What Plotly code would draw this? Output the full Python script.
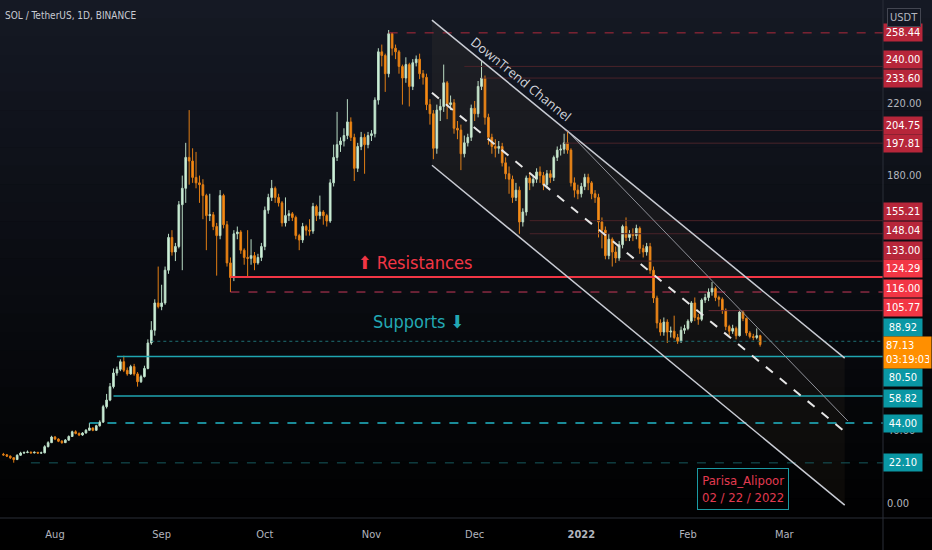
import pandas as pd
import plotly.graph_objects as go

# daily SOL/USDT candles, 2021-07-17 .. 2022-02-22
opens = [
    26.8, 26.5, 25.8, 24.9, 23.9, 26.3, 27.5, 27.8, 28.0, 27.6, 27.9, 27.5, 27.6, 31.0, 33.2,
    36.3, 35.2, 34.0, 33.2, 34.6, 36.6, 39.2, 38.3, 37.4, 38.5, 40.0, 41.3, 40.0, 42.5, 44.5,
    53.0, 56.6, 64.0, 71.5, 73.5, 77.7, 73.0, 71.0, 75.0, 71.0, 66.7, 69.5, 74.0, 88.0, 95.0,
    110.0, 108.0, 110.0, 128.0, 146.0, 138.0, 141.0, 164.0, 173.0, 190.0, 188.0, 179.0, 176.0, 175.0, 169.0,
    158.0, 158.5, 152.0, 147.0, 169.0, 153.0, 132.0, 124.0, 148.0, 149.0, 139.0, 135.0, 134.5, 136.0, 132.0,
    135.0, 141.0, 161.0, 168.0, 173.0, 168.0, 165.0, 154.0, 158.0, 159.0, 157.0, 147.0, 144.6, 152.0, 150.0,
    149.5, 163.0, 158.0, 160.0, 158.0, 155.0, 176.0, 190.0, 197.0, 199.0, 202.0, 209.5, 201.0, 184.0, 196.0,
    201.0, 197.0, 202.0, 203.0, 221.5, 248.0, 246.0, 236.0, 258.0, 250.0, 248.0, 240.0, 233.6, 241.0, 229.0,
    242.0, 244.0, 236.0, 234.0, 219.0, 214.0, 195.0, 216.0, 218.0, 231.0, 219.0, 220.0, 206.0, 205.0, 192.0,
    198.0, 201.0, 217.0, 214.0, 229.0, 233.6, 212.0, 201.0, 196.0, 195.0, 196.0, 187.0, 181.0, 178.0, 168.0,
    172.0, 154.5, 160.0, 178.7, 176.0, 178.0, 182.0, 180.0, 175.0, 181.0, 179.0, 190.0, 194.0, 194.5, 198.0,
    194.0, 176.0, 172.0, 170.0, 174.0, 179.0, 176.0, 170.0, 168.0, 154.5, 150.0, 136.0, 145.0, 138.0, 134.7,
    142.0, 152.0, 146.0, 148.0, 147.0, 151.0, 140.0, 138.0, 141.0, 128.0, 112.7, 99.0, 94.0, 99.5, 94.0,
    94.5, 91.0, 89.0, 95.0, 96.0, 100.0, 110.0, 102.0, 101.0, 111.6, 113.0, 116.0, 118.0, 113.0, 112.0,
    106.0, 97.0, 94.5, 96.0, 92.0, 105.0, 101.5, 93.5, 91.5, 91.0, 92.0,
]
highs = [
    27.6, 27.0, 26.2, 25.3, 26.8, 28.2, 28.4, 28.9, 28.3, 28.4, 28.1, 28.3, 31.8, 34.0, 37.0,
    36.9, 35.6, 34.6, 35.2, 37.2, 39.8, 40.0, 38.8, 39.0, 40.7, 44.0, 41.5, 43.0, 45.5, 54.0,
    60.0, 66.0, 74.0, 75.0, 79.0, 81.0, 74.5, 76.0, 76.5, 72.0, 70.5, 75.5, 90.0, 100.0, 112.0,
    130.0, 120.0, 130.0, 148.0, 150.0, 143.0, 166.0, 180.0, 198.0, 216.0, 195.0, 193.0, 180.0, 178.0, 170.0,
    170.0, 160.0, 154.0, 172.0, 170.0, 155.0, 135.0, 150.0, 152.0, 150.0, 140.0, 150.0, 145.0, 138.0, 137.0,
    143.0, 163.0, 170.0, 177.6, 174.0, 170.0, 166.0, 168.0, 161.0, 160.0, 158.0, 148.0, 154.0, 153.0, 156.0,
    165.0, 164.0, 169.0, 161.0, 159.0, 178.0, 197.0, 215.0, 201.0, 206.0, 222.0, 212.0, 203.0, 198.0, 204.0,
    203.0, 204.0, 205.0, 223.0, 250.0, 252.0, 247.0, 260.0, 258.5, 252.0, 249.0, 241.0, 245.0, 242.0, 244.0,
    246.0, 247.0, 238.0, 236.0, 222.0, 216.0, 219.0, 222.0, 241.0, 232.0, 224.0, 222.0, 210.0, 208.0, 202.0,
    203.0, 219.0, 221.0, 232.0, 243.5, 235.0, 214.0, 203.0, 200.0, 199.0, 198.0, 190.0, 185.0, 180.0, 176.0,
    174.0, 162.0, 180.0, 182.0, 180.0, 184.0, 185.0, 182.0, 183.0, 183.0, 191.0, 196.0, 197.0, 203.0, 204.75,
    195.0, 179.0, 175.0, 176.0, 181.0, 181.0, 177.0, 172.0, 170.0, 157.0, 152.0, 148.0, 146.0, 141.0, 144.0,
    153.0, 157.0, 150.0, 151.0, 153.0, 152.0, 142.0, 143.0, 143.0, 130.0, 114.0, 101.0, 102.0, 101.0, 97.0,
    103.0, 93.0, 97.0, 98.0, 101.0, 111.0, 113.0, 104.0, 112.5, 115.0, 118.0, 121.5, 119.0, 114.0, 113.0,
    107.0, 98.0, 98.0, 97.0, 106.0, 106.0, 102.0, 94.5, 93.0, 96.0, 92.5,
]
lows = [
    26.0, 25.3, 24.2, 22.2, 23.7, 26.0, 27.0, 27.4, 27.2, 27.3, 27.0, 27.1, 27.4, 30.6, 33.0,
    34.6, 33.5, 32.6, 33.0, 34.3, 36.3, 37.8, 36.8, 37.0, 38.2, 39.8, 39.5, 39.8, 42.0, 44.0,
    52.0, 56.0, 63.0, 70.0, 72.5, 72.0, 70.0, 70.5, 70.0, 64.0, 66.0, 69.0, 73.5, 87.0, 92.0,
    107.0, 106.0, 109.0, 126.0, 136.0, 133.0, 140.0, 128.0, 165.0, 175.0, 176.0, 173.0, 165.0, 156.0, 139.0,
    155.0, 150.0, 125.0, 145.0, 151.0, 130.0, 116.0, 122.0, 145.0, 137.0, 131.0, 124.0, 131.0, 128.0, 131.0,
    133.0, 139.0, 159.0, 166.0, 165.0, 163.0, 152.0, 152.0, 155.0, 155.0, 145.0, 139.0, 143.0, 147.0, 147.0,
    148.0, 155.0, 156.0, 153.0, 152.0, 154.0, 174.0, 188.0, 193.0, 196.0, 200.0, 199.0, 177.0, 182.0, 194.0,
    181.0, 195.0, 199.0, 201.0, 219.0, 240.0, 226.0, 234.0, 246.0, 244.0, 236.0, 219.0, 231.0, 218.0, 227.0,
    240.0, 233.0, 230.0, 216.0, 208.0, 189.0, 192.0, 210.0, 215.0, 211.0, 216.0, 203.0, 200.0, 183.0, 190.0,
    196.0, 199.0, 210.0, 212.0, 227.0, 208.0, 197.0, 192.0, 190.0, 192.0, 185.0, 178.0, 170.0, 165.0, 166.0,
    148.0, 152.0, 158.0, 172.0, 174.0, 176.0, 176.0, 172.0, 173.0, 176.0, 177.0, 188.0, 191.0, 192.0, 192.0,
    174.0, 168.0, 167.0, 168.0, 172.0, 172.0, 167.0, 165.0, 146.0, 140.0, 134.0, 134.0, 130.0, 132.0, 133.0,
    140.0, 144.0, 144.0, 144.0, 145.0, 137.0, 135.0, 136.0, 126.0, 110.0, 96.0, 92.0, 92.0, 88.0, 91.0,
    90.0, 87.5, 88.0, 93.0, 95.0, 99.0, 100.0, 98.0, 100.0, 110.0, 111.0, 114.0, 111.0, 108.0, 104.0,
    95.0, 92.0, 93.0, 90.0, 91.5, 100.0, 92.0, 90.5, 89.5, 90.0, 86.0,
]
closes = [
    26.5, 25.8, 24.9, 23.9, 26.3, 27.5, 27.8, 28.0, 27.6, 27.9, 27.5, 27.6, 31.0, 33.2, 36.3,
    35.2, 34.0, 33.2, 34.6, 36.6, 39.2, 38.3, 37.4, 38.5, 40.0, 41.3, 40.0, 42.5, 44.5, 53.0,
    56.6, 64.0, 71.5, 73.5, 77.7, 73.0, 71.0, 75.0, 71.0, 66.7, 69.5, 74.0, 88.0, 95.0, 110.0,
    108.0, 110.0, 128.0, 146.0, 138.0, 141.0, 164.0, 173.0, 190.0, 188.0, 179.0, 176.0, 175.0, 169.0, 158.0,
    158.5, 152.0, 147.0, 169.0, 153.0, 132.0, 124.0, 148.0, 149.0, 139.0, 135.0, 134.5, 136.0, 132.0, 135.0,
    141.0, 161.0, 168.0, 173.0, 168.0, 165.0, 154.0, 158.0, 159.0, 157.0, 147.0, 144.6, 152.0, 150.0, 149.5,
    163.0, 158.0, 160.0, 158.0, 155.0, 176.0, 190.0, 197.0, 199.0, 202.0, 209.5, 201.0, 184.0, 196.0, 201.0,
    197.0, 202.0, 203.0, 221.5, 248.0, 246.0, 236.0, 258.0, 250.0, 248.0, 240.0, 233.6, 241.0, 229.0, 242.0,
    244.0, 236.0, 234.0, 219.0, 214.0, 195.0, 216.0, 218.0, 231.0, 219.0, 220.0, 206.0, 205.0, 192.0, 198.0,
    201.0, 217.0, 214.0, 229.0, 233.6, 212.0, 201.0, 196.0, 195.0, 196.0, 187.0, 181.0, 178.0, 168.0, 172.0,
    154.5, 160.0, 178.7, 176.0, 178.0, 182.0, 180.0, 175.0, 181.0, 179.0, 190.0, 194.0, 194.5, 198.0, 194.0,
    176.0, 172.0, 170.0, 174.0, 179.0, 176.0, 170.0, 168.0, 154.5, 150.0, 136.0, 145.0, 138.0, 134.7, 142.0,
    152.0, 146.0, 148.0, 147.0, 151.0, 140.0, 138.0, 141.0, 128.0, 112.7, 99.0, 94.0, 99.5, 94.0, 94.5,
    91.0, 89.0, 95.0, 96.0, 100.0, 110.0, 102.0, 101.0, 111.6, 113.0, 116.0, 118.0, 113.0, 112.0, 106.0,
    97.0, 94.5, 96.0, 92.0, 105.0, 101.5, 93.5, 91.5, 91.0, 92.0, 87.13,
]
dates = pd.date_range("2021-07-17", periods=len(closes), freq="D")

month_ticks = ["2021-08-01", "2021-09-01", "2021-10-01", "2021-11-01",
               "2021-12-01", "2022-01-01", "2022-02-01", "2022-03-01"]
month_labels = ["Aug", "Sep", "Oct", "Nov", "Dec", "<b>2022</b>", "Feb", "Mar"]
price_ticks = [0, 40, 180, 220]
price_tick_labels = ["0.00", "40.00", "180.00", "220.00"]

x_start, x_end = "2021-07-16 00:15", "2022-03-29 17:00"

# horizontal levels: value, start date, colour, dash, width
levels = [
    (258.44, "2021-11-06", "#b02a3c", "dash", 1),
    (240.00, "2021-11-28", "#4a2329", "solid", 1),
    (233.60, "2021-12-03", "#4a2329", "solid", 1),
    (204.75, "2021-12-27", "#4a2329", "solid", 1),
    (197.81, "2021-12-27", "#4a2329", "solid", 1),
    (155.21, "2021-12-17", "#4a2329", "solid", 1),
    (148.04, "2021-12-17", "#4a2329", "solid", 1),
    (133.00, "2022-01-12", "#4a2329", "solid", 1),
    (124.29, "2021-09-21", "#f23645", "solid", 2),
    (116.00, "2021-09-21", "#c8385a", "dash", 1),
    (105.77, "2022-02-07", "#6a2a34", "solid", 1),
    (88.92, "2021-08-29", "#1f6f73", "dot", 1),
    (80.50, "2021-08-19", "#1fa5b0", "solid", 1.5),
    (58.82, "2021-08-18", "#1fa5b0", "solid", 1.5),
    (44.00, "2021-08-11", "#22b8c8", "dash", 1.5),
    (22.10, "2021-07-25", "#175a5e", "dash", 1),
]

# right-hand price labels: text, value, shift (px), background
price_labels = [
    ("258.44", 258.44, 0, "#b7263a"),
    ("240.00", 240.00, 7, "#b7263a"),
    ("233.60", 233.60, 0, "#b7263a"),
    ("204.75", 204.75, 5, "#b7263a"),
    ("197.81", 197.81, 0, "#b7263a"),
    ("155.21", 155.21, 9, "#b7263a"),
    ("148.04", 148.04, 3, "#b7263a"),
    ("133.00", 133.00, 11, "#b7263a"),
    ("124.29", 124.29, 8, "#f23645"),
    ("116.00", 116.00, 4, "#f23645"),
    ("105.77", 105.77, 3, "#f23645"),
    ("88.92", 88.92, 14, "#0a97a4"),
    ("80.50", 80.50, -21, "#0a97a4"),
    ("58.82", 58.82, -2, "#0a97a4"),
    ("44.00", 44.00, 0, "#0a97a4"),
    ("22.10", 22.10, 0, "#0a97a4"),
]

# downtrend channel anchors (date, price)
ch_upper = [("2021-11-18 14:00", 265.4), ("2022-03-18 14:00", 79.7)]
ch_lower = [("2021-11-18 14:00", 185.7), ("2022-03-18 14:00", -1.1)]
ch_mid = [("2021-11-18 14:00", 225.5), ("2022-03-18 14:00", 39.3)]
ch_inner = [("2021-12-27 19:00", 204.75), ("2022-03-19 12:00", 45.1)]

label_font = "DejaVu Sans Condensed, Liberation Sans Narrow, Roboto"

fig = go.Figure()

# channel shading
fig.add_trace(go.Scatter(
    x=[ch_upper[0][0], ch_upper[1][0], ch_lower[1][0], ch_lower[0][0]],
    y=[ch_upper[0][1], ch_upper[1][1], ch_lower[1][1], ch_lower[0][1]],
    fill="toself", fillcolor="rgba(255,210,140,0.045)", mode="none",
    hoverinfo="skip", showlegend=False))

fig.add_trace(go.Candlestick(
    x=dates, open=opens, high=highs, low=lows, close=closes,
    increasing=dict(line=dict(color="#b9dcc5", width=1), fillcolor="#d6f7e1"),
    decreasing=dict(line=dict(color="#e07d14", width=1), fillcolor="#ff9012"),
    whiskerwidth=0, showlegend=False))

shapes = []
# background gradient (dark navy at top fading to black)
n_bands = 30
for i in range(n_bands):
    t = i / (n_bands - 1)
    r, g, b = int(21 * (1 - t)), int(25 * (1 - t)), int(36 * (1 - t))
    shapes.append(dict(type="rect", xref="paper", yref="paper",
                       x0=-0.01, x1=1.07, y0=1 - (i + 1) / n_bands * 1.07, y1=1 - i / n_bands * 1.07 + 0.001,
                       fillcolor=f"rgb({r},{g},{b})", line=dict(width=0), layer="below"))

for val, start, color, dash, width in levels:
    shapes.append(dict(type="line", xref="x", yref="y", x0=start, x1=x_end, y0=val, y1=val,
                       line=dict(color=color, dash=dash, width=width)))

for pts, color, dash, width in [(ch_upper, "#c9ccd4", "solid", 1.5),
                                (ch_lower, "#c9ccd4", "solid", 1.5),
                                (ch_mid, "#e6e6e6", "dash", 2),
                                (ch_inner, "#8e9098", "solid", 1)]:
    shapes.append(dict(type="line", xref="x", yref="y", x0=pts[0][0], y0=pts[0][1],
                       x1=pts[1][0], y1=pts[1][1], line=dict(color=color, dash=dash, width=width)))

# axis separators
shapes.append(dict(type="line", xref="paper", yref="paper", x0=1, x1=1, y0=-0.07, y1=1,
                   line=dict(color="#2a2e39", width=1)))
shapes.append(dict(type="line", xref="paper", yref="paper", x0=0, x1=1.06, y0=0, y1=0,
                   line=dict(color="#2a2e39", width=1)))

annotations = []
for text, val, shift, bg in price_labels:
    annotations.append(dict(xref="paper", yref="y", x=1, y=val, yshift=shift, xanchor="left",
                            text=text, showarrow=False, bgcolor=bg, width=34, borderpad=2,
                            font=dict(family=label_font, size=11, color="#ffffff")))
annotations.append(dict(xref="paper", yref="y", x=1, y=closes[-1], yshift=-8, xanchor="left",
                        text=f"{closes[-1]:.2f}<br>03:19:03", showarrow=False, bgcolor="#ff8f00",
                        width=43, borderpad=2, align="left",
                        font=dict(family=label_font, size=11, color="#ffffff")))
annotations.append(dict(xref="paper", yref="paper", x=1, y=1, yshift=-8, xshift=4, xanchor="left",
                        yanchor="top", text="USDT", showarrow=False, bordercolor="#434651",
                        borderwidth=1, borderpad=2, bgcolor="#131722",
                        font=dict(family=label_font, size=11, color="#b2b5be")))
annotations.append(dict(xref="paper", yref="paper", x=0, y=1, xshift=3, yshift=-8,
                        xanchor="left", yanchor="top", showarrow=False,
                        text="SOL / TetherUS, 1D, BINANCE",
                        font=dict(family=label_font, size=10, color="#c8cbd3")))
annotations.append(dict(xref="x", yref="y", x="2021-12-14 12:00", y=233, text="DownTrend Channel",
                        textangle=39, showarrow=False,
                        font=dict(family="Open Sans", size=13, color="#d1d4dc")))
annotations.append(dict(xref="x", yref="y", x="2021-11-13 18:00", y=132.4, text="⬆ Resistances",
                        showarrow=False,
                        font=dict(family="DejaVu Sans Condensed, Open Sans", size=18, color="#f23645")))
annotations.append(dict(xref="x", yref="y", x="2021-11-14 18:00", y=100, text="Supports ⬇",
                        showarrow=False,
                        font=dict(family="DejaVu Sans Condensed, Open Sans", size=18, color="#22a8b4")))
annotations.append(dict(xref="x", yref="y", x="2022-02-17", y=7.5,
                        text="Parisa_Alipoor<br>02 / 22 / 2022", showarrow=False,
                        bordercolor="#1b9aa3", borderwidth=1, borderpad=4, bgcolor="rgba(0,0,0,0)",
                        font=dict(family=label_font, size=13, color="#e23a50")))

fig.update_layout(
    width=932, height=550,
    margin=dict(l=0, r=49, t=0, b=32),
    paper_bgcolor="#000000", plot_bgcolor="rgba(0,0,0,0)",
    shapes=shapes, annotations=annotations,
    showlegend=False,
    xaxis=dict(range=[x_start, x_end], rangeslider=dict(visible=False), showgrid=False,
               zeroline=False, tickvals=month_ticks, ticktext=month_labels, ticks="",
               ticklabelstandoff=8,
               tickfont=dict(family=label_font, size=11, color="#b2b5be")),
    yaxis=dict(range=[-8.2, 276.5], side="right", showgrid=False, zeroline=False,
               tickvals=price_ticks, ticktext=price_tick_labels, ticks="",
               ticklabelstandoff=3,
               tickfont=dict(family=label_font, size=11, color="#b2b5be")),
)

fig.write_html("out.html", config={"displayModeBar": False},
               post_script="document.body.style.margin='0';")
